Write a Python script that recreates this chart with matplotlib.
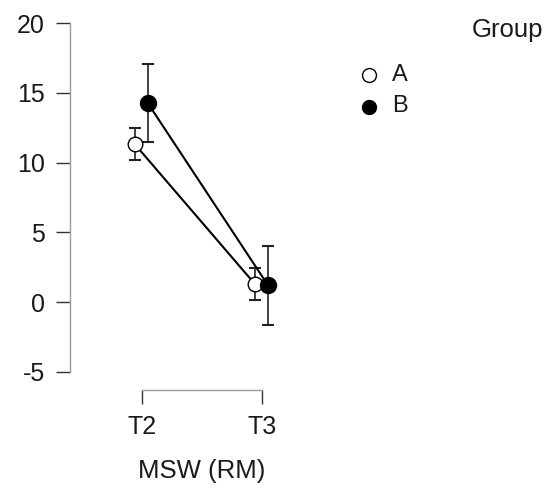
import matplotlib
matplotlib.use("Agg")
import matplotlib.pyplot as plt
from matplotlib.lines import Line2D
import numpy as np

plt.rcParams['font.family'] = ['Liberation Sans', 'DejaVu Sans']

categories = ["T2", "T3"]
groups = ["A", "B"]
means_A = [11.33, 1.28]
err_A = [1.15, 1.14]
means_B = [14.28, 1.2]
err_B = [2.83, 2.84]
yticks = [-5, 0, 5, 10, 15, 20]

W, H = 552, 491
fig = plt.figure(figsize=(W / 100, H / 100), dpi=100)
ax = fig.add_axes([70 / W, (H - 371.7) / H, 230 / W, 348.4 / H])

x = np.arange(len(categories))
dodge = {"A": -0.058, "B": 0.05}
series = {"A": (means_A, err_A, "white"), "B": (means_B, err_B, "black")}

for g in groups:
    m, e, fc = series[g]
    xs = x + dodge[g]
    ax.plot(xs, m, color="black", lw=1.5, zorder=2)
    ax.errorbar(xs, m, yerr=e, fmt="none", ecolor="#222222", elinewidth=1.2,
                capsize=4, capthick=1.5, zorder=1)
    ax.plot(xs, m, ls="none", marker="o", markersize=11.5 if g == "B" else 10.5,
            markerfacecolor=fc, markeredgecolor="black", markeredgewidth=1.0, zorder=3)

ax.set_ylim(-5, 20)
ax.set_xlim((70 - 141.7) / 120.3, (300 - 141.7) / 120.3)
ax.set_yticks(yticks)
ax.set_yticklabels([str(t) for t in yticks])
ax.set_xticks(x)
ax.set_xticklabels(categories)

for s in ["top", "right"]:
    ax.spines[s].set_visible(False)
ax.spines["left"].set_bounds(-5, 20)
ax.spines["bottom"].set_bounds(0, 1)
ax.spines["bottom"].set_position(("outward", 13.2))
for s in ["left", "bottom"]:
    ax.spines[s].set_color("#9a9a9a")
    ax.spines[s].set_linewidth(1.0)
ax.tick_params(axis="both", length=10, width=1.0, color="#333333",
               labelsize=18, labelcolor="#1a1a1a", pad=8)

fig.text(202 / W, (H - 471) / H, "MSW (RM)", ha="center", va="center",
         fontsize=18.5, color="#1a1a1a")

# legend
fig.text(472 / W, (H - 30) / H, "Group", ha="left", va="center", fontsize=18.5, color="#1a1a1a")
for g, yy in zip(groups, [75, 106.5]):
    fc = series[g][2]
    fig.add_artist(Line2D([369 / W], [(H - yy) / H], transform=fig.transFigure,
                          ls="none", marker="o", markersize=10, markerfacecolor=fc,
                          markeredgecolor="black", markeredgewidth=1.0))
    fig.text(392 / W, (H - yy) / H, g, ha="left", va="center", fontsize=17, color="#1a1a1a")

fig.savefig("out.png", dpi=100)
